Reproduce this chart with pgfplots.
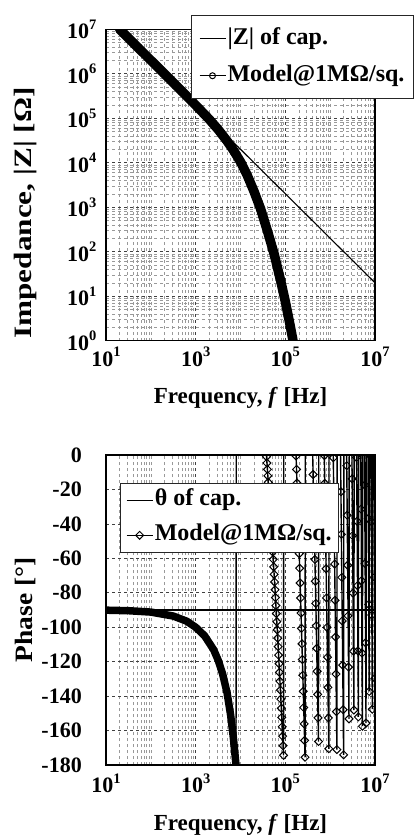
\documentclass[border=0pt]{standalone}
\usepackage{fontspec}
\setmainfont{Liberation Serif}
\usepackage{graphicx}
\usepackage{pgfplots}
\pgfplotsset{compat=1.18}
\newcommand{\tp}[1]{10\raisebox{9.5pt}{\fontsize{14.5}{14.5}\selectfont #1}}
\newcommand{\lf}{\fontsize{23}{27}\selectfont\bfseries}
\newcommand{\yf}{\fontsize{25}{29}\selectfont\bfseries}
\newcommand{\gf}{\fontsize{24}{28}\selectfont\bfseries}
\newcommand{\tf}{\fontsize{22}{26}\selectfont\bfseries}
\pgfplotsset{
  myaxis/.style={
    scale only axis, width=269pt,
    xmin=1, xmax=7,
    xtick={1,3,5,7}, xticklabels={\tp{1},\tp{3},\tp{5},\tp{7}},
    minor xtick={1.30103,1.47712,1.60206,1.69897,1.77815,1.84510,1.90309,1.95424,
      2,2.30103,2.47712,2.60206,2.69897,2.77815,2.84510,2.90309,2.95424,
      3.30103,3.47712,3.60206,3.69897,3.77815,3.84510,3.90309,3.95424,
      4,4.30103,4.47712,4.60206,4.69897,4.77815,4.84510,4.90309,4.95424,
      5.30103,5.47712,5.60206,5.69897,5.77815,5.84510,5.90309,5.95424,
      6,6.30103,6.47712,6.60206,6.69897,6.77815,6.84510,6.90309,6.95424},
    major tick length=0pt, minor tick length=0pt,
    grid=both,
    major grid style={dashed, black!75, line width=0.6pt},
    minor grid style={dashed, black!40, line width=0.45pt},
    axis line style={line width=1.4pt},
    ticklabel style={font=\tf},
    xlabel style={font=\lf},
    ylabel style={font=\yf},
    clip marker paths=true,
    legend cell align=left,
    legend image code/.code={\draw[mark repeat=2,mark phase=2,##1] plot coordinates {(0pt,0pt) (13pt,0pt) (26pt,0pt)};},
  }
}
\begin{document}
\begin{tikzpicture}
\path[use as bounding box] (0,0) rectangle (414pt,-837pt);
\fill[white] (0,0) rectangle (414pt,-837pt);
% ---------------- Impedance ----------------
\begin{axis}[myaxis, at={(106pt,-29.3pt)}, anchor=north west, height=311.4pt,
  ymin=0, ymax=7, ytick={0,1,2,3,4,5,6,7},
  yticklabels={\tp{0},\tp{1},\tp{2},\tp{3},\tp{4},\tp{5},\tp{6},\tp{7}},
  minor ytick={0.30103,0.47712,0.60206,0.69897,0.77815,0.84510,0.90309,0.95424,
    1.30103,1.47712,1.60206,1.69897,1.77815,1.84510,1.90309,1.95424,
    2.30103,2.47712,2.60206,2.69897,2.77815,2.84510,2.90309,2.95424,
    3.30103,3.47712,3.60206,3.69897,3.77815,3.84510,3.90309,3.95424,
    4.30103,4.47712,4.60206,4.69897,4.77815,4.84510,4.90309,4.95424,
    5.30103,5.47712,5.60206,5.69897,5.77815,5.84510,5.90309,5.95424,
    6.30103,6.47712,6.60206,6.69897,6.77815,6.84510,6.90309,6.95424},
  xticklabel style={yshift=-3pt}, yticklabel style={xshift=-6pt},
  xlabel={Frequency, \textit{f} [Hz]},
  ylabel={\scalebox{1.25}[1]{Impedance, |Z| [Ω]}},
  xlabel style={at={(axis description cs:0.5,-0.183)}, anchor=center},
  ylabel style={at={(axis description cs:-0.301,0.41)}, anchor=center},
  legend style={at={(axis description cs:0.316,1.045)}, anchor=north west,
    draw=black!85, line width=0.9pt, fill=white, font=\gf,
    inner xsep=7.5pt, inner ysep=12pt, row sep=15pt,
    nodes={inner sep=1.5pt, text height=15pt, text depth=4pt}},
]
\addplot[black, line width=9.5pt, line cap=round, line join=round, forget plot] coordinates {
 (1.303,7.0) (1.6,6.703) (2.0,6.303) (2.5,5.803) (3.0,5.295) (3.3,4.98)
 (3.5,4.75) (3.7,4.49) (3.85,4.27) (4.0,4.02) (4.15,3.72) (4.3,3.36)
 (4.45,2.96) (4.6,2.47) (4.75,1.95) (4.9,1.33) (5.0,0.88) (5.1,0.38) (5.2,-0.15)};
\addplot[black, line width=1.1pt] coordinates {(1.303,7) (7,1.303)};
\addlegendentry{|Z| of cap.}
\addlegendimage{black, line width=1.1pt, mark=o, mark size=3pt, mark options={line width=1pt}}
\addlegendentry{Model@1MΩ/sq.}
\end{axis}
% ---------------- Phase ----------------
\begin{axis}[myaxis, at={(106pt,-455pt)}, anchor=north west, height=310pt,
  ymin=-180, ymax=0, ytick={-180,-160,-140,-120,-100,-80,-60,-40,-20,0},
  yticklabels={-180,-160,-140,-120,-100,-80,-60,-40,-20,0},
  xticklabel style={yshift=-5pt}, yticklabel style={xshift=-20.7pt},
  xlabel={Frequency, \textit{f} [Hz]},
  ylabel={\scalebox{1.1}[1]{Phase [°]}},
  xlabel style={at={(axis description cs:0.5,-0.194)}, anchor=center},
  ylabel style={at={(axis description cs:-0.301,0.5)}, anchor=center},
  legend style={at={(axis description cs:0.052,0.91)}, anchor=north west,
    draw=black!85, line width=0.9pt, fill=white, font=\gf,
    inner xsep=5.5pt, inner ysep=6pt, row sep=13pt,
    nodes={inner sep=1.5pt, text height=15pt, text depth=4pt}},
]
\addplot[black, line width=7.5pt, line cap=round, line join=round, forget plot] coordinates {
 (1.0,-90.1) (1.5,-90.4) (2.0,-91.2) (2.5,-93.5) (2.8,-96.5) (3.0,-100)
 (3.2,-105) (3.4,-113) (3.5,-119) (3.6,-127) (3.7,-138) (3.78,-151) (3.84,-164) (3.9,-180)};
\addplot[black, line width=1.1pt] coordinates {(1,-90) (7,-90)};
\addlegendentry{θ of cap.}
\addplot[black, line width=1.4pt, mark=square, mark size=2.8pt, mark options={rotate=45, solid, line width=1pt}] coordinates {
 (3.90,-180) (3.91,168.9) (4.57,2.6) (4.58,-0.98) (4.59,-4.64) (4.60,-8.34) (4.61,-12.09)
 (4.62,-15.88) (4.63,-19.71) (4.64,-23.58) (4.65,-27.50) (4.66,-31.47) (4.67,-35.48)
 (4.68,-39.54) (4.69,-43.64) (4.70,-47.80) (4.71,-52.00) (4.72,-56.25) (4.73,-60.55)
 (4.74,-64.90) (4.75,-69.29) (4.76,-73.74) (4.77,-78.24) (4.78,-82.80) (4.79,-87.40)
 (4.80,-92.07) (4.81,-96.78) (4.82,-101.55) (4.83,-106.37) (4.84,-111.25) (4.85,-116.19)
 (4.86,-121.18) (4.87,-126.23) (4.88,-131.34) (4.89,-136.51) (4.90,-141.73) (4.91,-147.02)
 (4.92,-152.37) (4.93,-157.79) (4.94,-163.26) (4.95,-168.80) (4.96,-174.40) (4.97,179.93)
 (5.23,7.16) (5.24,-0.57) (5.25,-8.39) (5.26,-16.30) (5.27,-24.31) (5.28,-32.40)
 (5.29,-40.60) (5.30,-48.89) (5.31,-57.26) (5.32,-65.74) (5.33,-74.32) (5.34,-83.00)
 (5.35,-91.78) (5.36,-100.65) (5.37,-109.64) (5.38,-118.72) (5.39,-127.91) (5.40,-137.21)
 (5.41,-146.62) (5.42,-156.13) (5.43,-165.75) (5.44,-175.49) (5.45,174.67)
 (5.61,0.65) (5.62,-11.33) (5.63,-23.45) (5.64,-35.71) (5.65,-48.10) (5.66,-60.64)
 (5.67,-73.33) (5.68,-86.17) (5.69,-99.15) (5.70,-112.28) (5.71,-125.56) (5.72,-139.01)
 (5.73,-152.60) (5.74,-166.35) (5.75,179.74)
 (5.86,15.67) (5.87,-0.31) (5.88,-16.46) (5.89,-32.80) (5.90,-49.34) (5.91,-66.06)
 (5.92,-82.98) (5.93,-100.10) (5.94,-117.41) (5.95,-134.92) (5.96,-152.64) (5.97,-170.56)
 (5.98,171.31) (5.99,152.97) (6.00,134.44) (6.01,115.67) (6.02,96.70) (6.03,77.49)
 (6.04,58.06) (6.05,38.42) (6.06,18.54) (6.07,-1.57) (6.08,-21.91) (6.09,-42.48)
 (6.10,-63.30) (6.11,-84.35) (6.12,-105.65) (6.13,-127.20) (6.14,-148.99) (6.15,-171.03)
 (6.16,166.67) (6.17,144.09) (6.18,121.28) (6.19,98.20) (6.20,74.83) (6.21,51.22)
 (6.22,27.32) (6.23,3.14) (6.24,-21.31) (6.25,-46.04) (6.26,-71.06) (6.27,-96.37)
 (6.28,-121.98) (6.29,-147.89) (6.30,-174.10) (6.31,159.41) (6.32,132.59) (6.33,105.46)
 (6.34,78.02) (6.35,50.26) (6.36,22.19) (6.37,-6.22) (6.38,-34.95) (6.39,-64.01)
 (6.40,-93.40) (6.41,-123.16) (6.42,-153.23) (6.43,176.33) (6.44,145.54) (6.45,114.41)
 (6.46,82.91) (6.47,51.03) (6.48,18.80) (6.49,-13.81) (6.50,-46.80) (6.51,-80.17)
 (6.52,-113.93) (6.53,-148.07) (6.54,177.38) (6.55,142.44) (6.56,107.09) (6.57,71.34)
 (6.58,35.17) (6.59,-1.42) (6.60,-38.43) (6.61,-75.89) (6.62,-113.76) (6.63,-152.07)
 (6.64,169.17) (6.65,129.97) (6.66,90.31) (6.67,50.19) (6.68,9.61) (6.69,-31.44)
 (6.70,-72.98) (6.71,-114.98) (6.72,-157.49) (6.73,159.53) (6.74,116.04) (6.75,72.06)
 (6.76,27.56) (6.77,-17.46) (6.78,-63.00) (6.79,-109.05) (6.80,-155.66) (6.81,157.22)
 (6.82,109.52) (6.83,61.29) (6.84,12.50) (6.85,-36.87) (6.86,-86.78) (6.87,-137.29)
 (6.88,171.61) (6.89,119.93) (6.90,67.65) (6.91,14.75) (6.92,-38.74) (6.93,-92.87)
 (6.94,-147.61) (6.95,157.01) (6.96,100.99) (6.97,44.32) (6.98,-13.02) (6.99,-71.00)
 (7.00,-129.70)};
\addlegendentry{Model@1MΩ/sq.}
\end{axis}
\end{tikzpicture}
\end{document}
